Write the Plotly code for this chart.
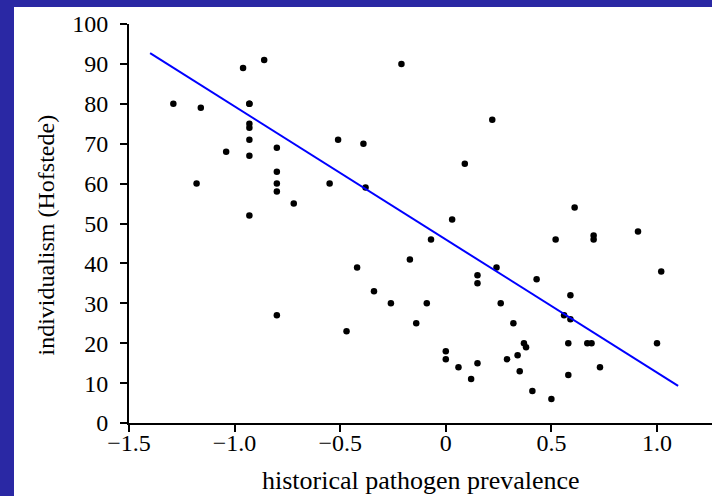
import plotly.graph_objects as go

# Scatter data: historical pathogen prevalence vs individualism (Hofstede)
pathogen = [
    -1.29, -1.16, -1.18, -1.04, -0.96, -0.86,
    -0.93, -0.93, -0.93, -0.93, -0.93, -0.93, -0.93,
    -0.80, -0.80, -0.80, -0.80, -0.80, -0.72,
    -0.55, -0.51, -0.47, -0.42, -0.39, -0.38, -0.34, -0.26, -0.21, -0.17, -0.14,
    -0.09, -0.07, 0.00, 0.00, 0.03, 0.06, 0.09, 0.12, 0.15, 0.15, 0.15, 0.22,
    0.24, 0.26, 0.29, 0.32, 0.34, 0.35, 0.37, 0.38, 0.41, 0.43, 0.50, 0.52,
    0.56, 0.58, 0.58, 0.59, 0.59, 0.61, 0.67, 0.69, 0.70, 0.70, 0.73, 0.91,
    1.00, 1.02,
]
individualism = [
    80, 79, 60, 68, 89, 91,
    80, 75, 74, 71, 67, 52, 80,
    69, 63, 60, 58, 27, 55,
    60, 71, 23, 39, 70, 59, 33, 30, 90, 41, 25,
    30, 46, 18, 16, 51, 14, 65, 11, 37, 35, 15, 76,
    39, 30, 16, 25, 17, 13, 20, 19, 8, 36, 6, 46,
    27, 12, 20, 26, 32, 54, 20, 20, 47, 46, 14, 48,
    20, 38,
]

# Regression line end points
fit_x = [-1.40, 1.10]
fit_y = [92.7, 9.3]

x_tick_vals = [-1.5, -1.0, -0.5, 0.0, 0.5, 1.0]
x_tick_text = ["\u22121.5", "\u22121.0", "\u22120.5", "0", "0.5", "1.0"]
y_tick_vals = [0, 10, 20, 30, 40, 50, 60, 70, 80, 90, 100]

x_title = "historical pathogen prevalence"
y_title = "individualism (Hofstede)"

FONT = "Liberation Serif"
BLUE_BG = "#2a28a4"

fig = go.Figure()
fig.add_trace(go.Scatter(
    x=pathogen, y=individualism, mode="markers",
    marker=dict(color="black", size=6.5, symbol="circle"),
    showlegend=False, hoverinfo="skip",
))
fig.add_trace(go.Scatter(
    x=fit_x, y=fit_y, mode="lines",
    line=dict(color="#0000ff", width=2),
    showlegend=False, hoverinfo="skip",
))

W, H = 712, 496
ml, mr, mt, mb = 129, 0, 24, 73
pw, ph = W - ml - mr, H - mt - mb

fig.update_layout(
    width=W, height=H,
    margin=dict(l=ml, r=mr, t=mt, b=mb, pad=0),
    paper_bgcolor="white", plot_bgcolor="white",
    font=dict(family=FONT, color="black", size=24),
    xaxis=dict(
        range=[-1.5, -1.5 + pw / 211.2], showgrid=False, zeroline=False,
        showline=True, linecolor="black", linewidth=2,
        ticks="outside", ticklen=7, tickwidth=2, tickcolor="black",
        tickvals=x_tick_vals, ticktext=x_tick_text,
        tickfont=dict(family=FONT, size=24, color="black"),
        ticklabelstandoff=-10,
    ),
    yaxis=dict(
        range=[0, 100], showgrid=False, zeroline=False,
        showline=True, linecolor="black", linewidth=2,
        ticks="outside", ticklen=7, tickwidth=2, tickcolor="black",
        tickvals=y_tick_vals,
        tickfont=dict(family=FONT, size=24, color="black"),
        ticklabelstandoff=7,
    ),
    annotations=[
        dict(text=x_title, xref="paper", yref="paper", x=0.5, y=0,
             yshift=-57, showarrow=False, xanchor="center", yanchor="middle",
             font=dict(family=FONT, size=26, color="black")),
        dict(text=y_title, xref="paper", yref="paper", x=0, y=0.5,
             xshift=-84, yshift=-12, showarrow=False, textangle=-90,
             xanchor="center", yanchor="middle",
             font=dict(family=FONT, size=24, color="black")),
    ],
    shapes=[
        dict(type="rect", xref="paper", yref="paper",
             x0=-ml / pw, x1=(-ml + 14) / pw, y0=-mb / ph, y1=(ph + mt) / ph,
             fillcolor=BLUE_BG, line=dict(width=0), layer="above"),
        dict(type="rect", xref="paper", yref="paper",
             x0=-ml / pw, x1=1.0, y0=(ph + mt - 7) / ph, y1=(ph + mt) / ph,
             fillcolor=BLUE_BG, line=dict(width=0), layer="above"),
    ],
)

fig.write_html("out.html")
